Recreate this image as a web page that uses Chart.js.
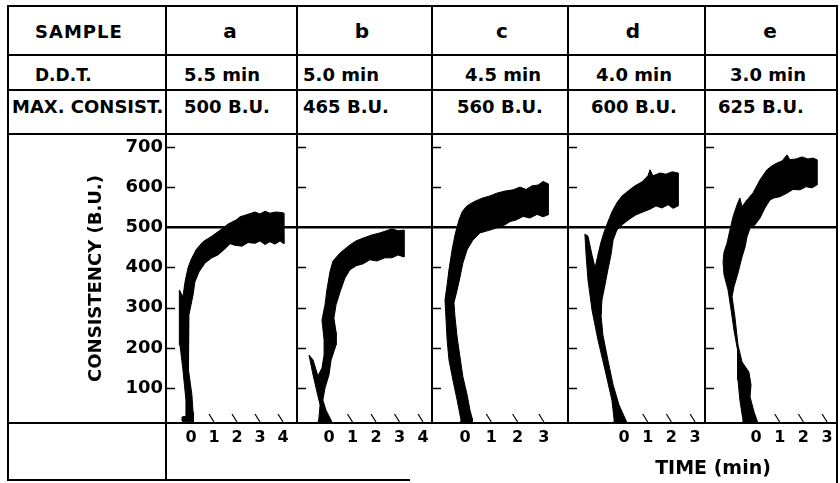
<!DOCTYPE html>
<html>
<head>
<meta charset="utf-8">
<script src="https://cdn.jsdelivr.net/npm/chart.js@4.4.1/dist/chart.umd.min.js"></script>
<style>
    html, body { margin: 0; padding: 0; background: #fff; }
    #page { position: relative; width: 840px; height: 483px; overflow: hidden;
            font-family: 'DejaVu Sans', sans-serif; font-weight: bold; color: #000; }
    .ln { position: absolute; background: #000; }
    .txt { position: absolute; white-space: pre; line-height: 1; }
    .mid { transform: translateX(-50%); }
    canvas { position: absolute; }
</style>
</head>
<body>
<div id="page"></div>
<script>
// --- data ---
const samples = ['a', 'b', 'c', 'd', 'e'];
const ddtText = ['5.5 min', '5.0 min', '4.5 min', '4.0 min', '3.0 min'];
const maxText = ['500 B.U.', '465 B.U.', '560 B.U.', '600 B.U.', '625 B.U.'];

const yTicks = [100, 200, 300, 400, 500, 600, 700];
const timeTicks = [[0, 1, 2, 3, 4], [0, 1, 2, 3, 4], [0, 1, 2, 3], [0, 1, 2, 3], [0, 1, 2, 3]];
const refLine = 500;

// each trace is a band: upper edge runs from the foot up to the end,
// lower edge runs back from the end down to the foot. [time (min), B.U.]
const aUpper = [[-0.39, 18], [-0.39, 28], [-0.22, 30], [-0.22, 70], [-0.35, 145], [-0.48, 207], [-0.52, 269],
    [-0.52, 307], [-0.48, 344], [-0.35, 327], [-0.26, 364], [-0.13, 399], [0.00, 419], [0.22, 444], [0.52, 464],
    [0.91, 478], [1.35, 496], [1.61, 508], [1.78, 513], [1.96, 518], [2.13, 526], [2.35, 530], [2.57, 534],
    [2.78, 538], [3.00, 533], [3.22, 540], [3.43, 535], [3.70, 538], [4.00, 536]];
const aLower = [[4.04, 459], [3.87, 466], [3.65, 458], [3.43, 464], [3.22, 457], [3.00, 466], [2.78, 460],
    [2.48, 462], [2.22, 453], [1.91, 455], [1.70, 459], [1.43, 444], [1.17, 431], [0.91, 424], [0.61, 411],
    [0.35, 389], [0.17, 364], [0.09, 332], [-0.09, 282], [-0.13, 220], [-0.09, 145], [0.04, 83], [0.09, 40],
    [0.13, 23], [0.09, 16], [-0.39, 16]];

const bUpper = [[-0.47, 13], [-0.43, 25], [-0.38, 58], [-0.51, 90], [-0.68, 133], [-0.85, 182], [-0.68, 170],
    [-0.47, 130], [-0.30, 150], [-0.21, 182], [-0.21, 220], [-0.30, 269], [-0.17, 307], [-0.09, 344], [0.04, 389],
    [0.17, 416], [0.47, 436], [0.89, 456], [1.15, 466], [1.45, 473], [1.83, 481], [2.17, 486], [2.43, 491],
    [2.68, 496], [2.94, 491], [3.19, 493]];
const bLower = [[3.19, 426], [2.94, 431], [2.68, 424], [2.38, 424], [2.04, 416], [1.74, 419], [1.45, 409],
    [1.15, 404], [0.89, 394], [0.68, 374], [0.47, 339], [0.30, 307], [0.21, 274], [0.30, 239], [0.30, 207],
    [0.09, 170], [0.00, 133], [-0.17, 100], [-0.26, 70], [-0.13, 45], [0.09, 20], [0.13, 13]];

const cUpper = [[-0.19, 13], [-0.15, 20], [-0.30, 70], [-0.46, 120], [-0.61, 170], [-0.68, 220], [-0.72, 269],
    [-0.76, 319], [-0.68, 357], [-0.61, 394], [-0.49, 444], [-0.38, 481], [-0.23, 518], [-0.11, 538], [0.04, 551],
    [0.19, 558], [0.42, 566], [0.68, 573], [0.95, 578], [1.22, 585], [1.52, 590], [1.83, 593], [2.09, 600],
    [2.32, 594], [2.55, 603], [2.78, 605], [2.97, 614], [3.16, 608]];
const cLower = [[3.16, 531], [2.97, 526], [2.74, 532], [2.47, 523], [2.21, 527], [1.94, 518], [1.71, 514],
    [1.52, 506], [1.33, 501], [0.95, 493], [0.57, 486], [0.30, 468], [0.08, 444], [-0.08, 411], [-0.19, 376],
    [-0.30, 344], [-0.42, 312], [-0.38, 277], [-0.30, 227], [-0.19, 177], [-0.08, 128], [0.08, 83], [0.19, 45],
    [0.27, 25], [0.27, 13]];

const dUpper = [[-0.42, 13], [-0.42, 23], [-0.51, 70], [-0.80, 145], [-1.10, 220], [-1.35, 294], [-1.52, 369],
    [-1.60, 431], [-1.65, 483], [-1.52, 478], [-1.35, 431], [-1.22, 399], [-1.10, 431], [-0.97, 463], [-0.84, 488],
    [-0.68, 513], [-0.51, 538], [-0.30, 561], [-0.08, 578], [0.17, 590], [0.46, 603], [0.76, 613], [1.01, 628],
    [1.10, 643], [1.22, 628], [1.52, 635], [1.77, 632], [2.03, 638], [2.28, 635]];
const dLower = [[2.28, 553], [2.07, 547], [1.86, 556], [1.60, 548], [1.35, 553], [1.10, 545], [0.80, 538],
    [0.51, 531], [0.25, 521], [-0.04, 508], [-0.30, 493], [-0.46, 468], [-0.55, 431], [-0.68, 394], [-0.80, 357],
    [-0.93, 319], [-0.97, 282], [-0.89, 232], [-0.68, 170], [-0.46, 108], [-0.21, 58], [0.04, 25], [0.13, 13]];

const eUpper = [[-0.55, 13], [-0.55, 20], [-0.68, 70], [-0.76, 120], [-0.76, 157], [-0.80, 195], [-0.93, 244],
    [-1.05, 294], [-1.18, 344], [-1.35, 382], [-1.39, 414], [-1.35, 438], [-1.22, 461], [-1.10, 493], [-0.97, 526],
    [-0.80, 556], [-0.68, 573], [-0.59, 551], [-0.38, 568], [-0.13, 585], [0.17, 618], [0.46, 643], [0.68, 653],
    [0.89, 660], [1.10, 665], [1.31, 680], [1.43, 668], [1.69, 670], [1.94, 675], [2.19, 670], [2.41, 672], [2.57, 668]];
const eLower = [[2.57, 605], [2.36, 598], [2.11, 601], [1.86, 593], [1.56, 594], [1.31, 585], [1.01, 576],
    [0.76, 573], [0.59, 568], [0.38, 548], [0.17, 523], [-0.04, 506], [-0.25, 498], [-0.38, 476], [-0.46, 451],
    [-0.59, 426], [-0.76, 386], [-0.93, 352], [-1.01, 327], [-0.89, 277], [-0.76, 207], [-0.59, 165], [-0.30, 140],
    [-0.21, 108], [-0.25, 78], [-0.08, 40], [0.04, 20], [0.08, 13]];

const traces = [[aUpper, aLower], [bUpper, bLower], [cUpper, cLower], [dUpper, dLower], [eUpper, eLower]];

// --- layout (pixels) ---
const panelLeft = [166, 297, 432, 568, 705];
const panelRight = [297, 432, 568, 705, 837];
const zeroX = [191, 329, 465, 624, 756];      // where 0 min sits in each panel
const pxPerMin = [23, 23.5, 26.3, 23.7, 23.7];
const plotTop = 134, plotBottom = 423, axisH = 40;
const buMin = 13, buMax = 732;

const page = document.getElementById('page');

function hline(x1, x2, y, w) {
    const d = document.createElement('div');
    d.className = 'ln';
    d.style.cssText = `left:${x1}px;top:${y - w / 2}px;width:${x2 - x1}px;height:${w}px`;
    page.appendChild(d);
}
function vline(x, y1, y2, w) {
    const d = document.createElement('div');
    d.className = 'ln';
    d.style.cssText = `left:${x - w / 2}px;top:${y1}px;width:${w}px;height:${y2 - y1}px`;
    page.appendChild(d);
}
function text(str, x, baseline, size, centred, extra) {
    const d = document.createElement('div');
    d.className = 'txt' + (centred ? ' mid' : '');
    d.textContent = str;
    d.style.cssText = `left:${x}px;top:${baseline - 0.846 * size}px;font-size:${size}px;` + (extra || '');
    page.appendChild(d);
}

// --- the little marks each panel carries ---
const panelMarks = {
    id: 'panelMarks',
    beforeDatasetsDraw(chart, args, opts) {
        const { ctx, chartArea: a, scales: { x, y } } = chart;
        ctx.save();
        ctx.strokeStyle = '#000';
        ctx.lineWidth = 2.5;
        const yr = y.getPixelForValue(refLine);
        ctx.beginPath(); ctx.moveTo(a.left, yr); ctx.lineTo(a.right, yr); ctx.stroke();

        ctx.lineWidth = 1.5;
        yTicks.forEach(v => {
            if (v === refLine) return;
            const py = Math.round(y.getPixelForValue(v)) + 0.5;
            ctx.beginPath(); ctx.moveTo(a.left + 1, py); ctx.lineTo(a.left + 9, py); ctx.stroke();
        });

        ctx.lineWidth = 1.2;
        opts.times.forEach(v => {
            if (v === 0) return;
            const px = x.getPixelForValue(v);
            ctx.beginPath(); ctx.moveTo(px - 5, a.bottom - 9); ctx.lineTo(px, a.bottom - 1); ctx.stroke();
        });
        ctx.restore();
    }
};

// --- one chart per sample ---
traces.forEach(([upper, lower], i) => {
    const first = i === 0;
    const canvasLeft = first ? 8 : panelLeft[i];
    const cv = document.createElement('canvas');
    cv.width = panelRight[i] - canvasLeft;
    cv.height = plotBottom - plotTop + axisH;
    cv.style.left = canvasLeft + 'px';
    cv.style.top = plotTop + 'px';
    page.appendChild(cv);

    const pts = upper.concat(lower).map(([t, bu]) => ({ x: t, y: bu }));

    new Chart(cv, {
        type: 'line',
        data: {
            datasets: [{
                data: pts,
                fill: 'shape',
                backgroundColor: '#000',
                borderColor: '#000',
                borderWidth: 1,
                pointRadius: 0,
                tension: 0
            }]
        },
        options: {
            responsive: false,
            animation: false,
            layout: { padding: 0 },
            plugins: {
                legend: { display: false },
                tooltip: { enabled: false },
                panelMarks: { times: timeTicks[i] }
            },
            scales: {
                x: {
                    type: 'linear',
                    min: (panelLeft[i] - zeroX[i]) / pxPerMin[i],
                    max: (panelRight[i] - zeroX[i]) / pxPerMin[i],
                    grid: { display: false, drawTicks: false },
                    border: { display: false },
                    ticks: { color: '#000', padding: 5, font: { family: 'DejaVu Sans', size: 16, weight: 'bold' } },
                    afterBuildTicks: s => { s.ticks = timeTicks[i].map(v => ({ value: v })); },
                    afterFit: s => { s.height = axisH; s.paddingLeft = 0; s.paddingRight = 0; }
                },
                y: {
                    type: 'linear',
                    display: first,
                    min: buMin,
                    max: buMax,
                    grid: { display: false, drawTicks: false },
                    border: { display: false },
                    ticks: { color: '#000', padding: 3, font: { family: 'DejaVu Sans', size: 18, weight: 'bold' } },
                    title: {
                        display: first,
                        text: 'CONSISTENCY (B.U.)',
                        color: '#000',
                        font: { family: 'DejaVu Sans', size: 18, weight: 'bold' },
                        padding: { top: 78, bottom: 0 }
                    },
                    afterBuildTicks: s => { s.ticks = yTicks.map(v => ({ value: v })); },
                    afterFit: s => {
                        if (first) s.width = panelLeft[0] - 8;
                        s.paddingTop = 0; s.paddingBottom = 0;
                    }
                }
            }
        },
        plugins: [panelMarks]
    });
});

// --- table rules ---
[6, 55, 90, 134].forEach(y => hline(7, 838, y, 2));
hline(7, 838, plotBottom, 2.5);
hline(7, 410, 480, 2);
vline(8, 5, 481, 2);
vline(166, 5, 481, 2);
vline(837, 5, 483, 2);
panelLeft.slice(1).forEach(x => vline(x, 5, plotBottom, 2));

// --- table text ---
text('SAMPLE', 35, 38, 18, false, 'letter-spacing:1px');
text('D.D.T.', 35, 81, 17);
text('MAX. CONSIST.', 12, 113, 18, false);

const sampleX = [230, 362, 502, 633, 770];
const ddtX = [222, 341, 503, 634, 768];
const maxX = [227, 346, 500, 634, 761];
samples.forEach((s, i) => text(s, sampleX[i], 38, 20, true));
ddtText.forEach((s, i) => text(s, ddtX[i], 81, 18, true));
maxText.forEach((s, i) => text(s, maxX[i], 113, 18, true));

text('TIME (min)', 713, 474, 19, true);
</script>
</body>
</html>
